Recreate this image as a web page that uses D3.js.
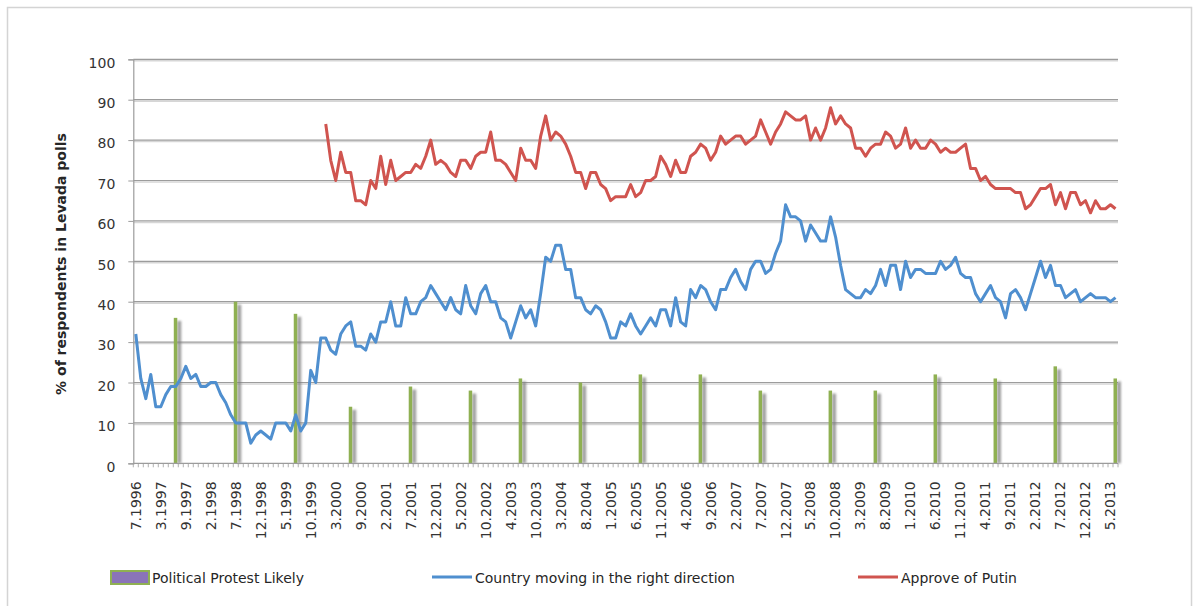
<!DOCTYPE html>
<html>
<head>
<meta charset="utf-8">
<script src="https://cdn.jsdelivr.net/npm/d3@7"></script>
<style>
body { margin: 0; background: #fff; }
svg { display: block; font-family: 'DejaVu Sans', sans-serif; }
</style>
</head>
<body>
<script>
// poll months run 7.1996 .. 6.2013, a few months had no poll
var firstMonth = [7, 1996], lastMonth = [6, 2013];
var missingMonths = ['9.1996', '12.1996', '2.1997', '6.1997', '6.2000', '1.2003', '6.2003'];

var tickLabels = ['7.1996','3.1997','9.1997','2.1998','7.1998','12.1998','5.1999','10.1999','3.2000','9.2000',
  '2.2001','7.2001','12.2001','5.2002','10.2002','4.2003','10.2003','3.2004','8.2004','1.2005',
  '6.2005','11.2005','4.2006','9.2006','2.2007','7.2007','12.2007','5.2008','10.2008','3.2009',
  '8.2009','1.2010','6.2010','11.2010','4.2011','9.2011','2.2012','7.2012','12.2012','5.2013'];
var yTicks = [0, 10, 20, 30, 40, 50, 60, 70, 80, 90, 100];

// Country moving in the right direction (one value per poll month)
var rightDirection = [32,21,16,22,14,14,17,19,19,21,24,21,22,19,19,20,20,17,15,12,
  10,10,10,5,7,8,7,6,10,10,10,8,12,8,10,23,20,31,31,28,
  27,32,34,35,29,29,28,32,30,35,35,40,34,34,41,37,37,40,41,44,
  42,40,38,41,38,37,44,39,37,42,44,40,40,36,35,31,35,39,36,38,
  34,42,51,50,54,54,48,48,41,41,38,37,39,38,35,31,31,35,34,37,
  34,32,34,36,34,38,38,34,41,35,34,43,41,44,43,40,38,43,43,46,
  48,45,43,48,50,50,47,48,52,55,64,61,61,60,55,59,57,55,55,61,
  56,49,43,42,41,41,43,42,44,48,44,49,49,43,50,46,48,48,47,47,
  47,50,48,49,51,47,46,46,42,40,42,44,41,40,36,42,43,41,38,42,
  46,50,46,49,44,44,41,42,43,40,41,42,41,41,41,40,41];

// Approve of Putin, starts 1.2000
var putinStart = '1.2000';
var approvePutin = [84,75,70,77,72,72,65,65,64,70,68,76,69,75,70,71,72,72,74,73,
  76,80,74,75,74,72,71,75,75,73,76,77,77,82,75,75,74,72,70,78,
  75,75,73,81,86,80,82,81,79,76,72,72,68,72,72,69,68,65,66,66,
  66,69,66,67,70,70,71,76,74,71,75,72,72,76,77,79,78,75,77,81,
  79,80,81,81,79,80,81,85,82,79,82,84,87,86,85,85,86,80,83,80,
  83,88,84,86,84,83,78,78,76,78,79,79,82,81,78,79,83,78,80,78,
  78,80,79,77,78,77,77,78,79,73,73,70,71,69,68,68,68,68,67,67,
  63,64,66,68,68,69,64,67,63,67,67,64,65,62,65,63,63,64,63];

// Political Protest Likely
var protestMonths = ['7.1997','7.1998','7.1999','7.2000','7.2001','7.2002','7.2003','7.2004','7.2005',
  '7.2006','7.2007','9.2008','6.2009','6.2010','6.2011','6.2012','6.2013'];
var protestValues = [36,40,37,14,19,18,21,20,22,22,18,18,18,22,21,24,21];

var blueColor = '#4f8fcf', redColor = '#d0544f', greenColor = '#8fb052';

// category list
var categories = [];
var m = firstMonth[0], yr = firstMonth[1];
while (yr < lastMonth[1] || (yr == lastMonth[1] && m <= lastMonth[0])) {
  var key = m + '.' + yr;
  if (missingMonths.indexOf(key) < 0) categories.push(key);
  m++;
  if (m > 12) { m = 1; yr++; }
}

var w = 1199, h = 606;
var plotLeft = 133.3, plotRight = 1118, plotTop = 59.3, plotBottom = 463.3;

var svg = d3.select('body').append('svg')
  .attr('width', w)
  .attr('height', h);

var defs = svg.append('defs');
defs.append('filter')
  .attr('id', 'blur')
  .attr('x', '-50%').attr('width', '200%')
  .append('feGaussianBlur')
  .attr('stdDeviation', 1.3);

// outer frame
svg.append('rect')
  .attr('x', 7.5)
  .attr('y', 7.5)
  .attr('width', 1184)
  .attr('height', 640)
  .attr('fill', 'none')
  .attr('stroke', '#d4d4d4')
  .attr('stroke-width', 1.5);

var x = d3.scaleBand()
  .domain(categories)
  .range([plotLeft, plotRight]);
var bw = x.bandwidth();
var cx = function(c) { return x(c) + bw / 2; };

var y = d3.scaleLinear()
  .domain([0, 100])
  .range([plotBottom, plotTop]);

// gridlines
var grid = svg.append('g');
grid.selectAll('line.shadow')
  .data(yTicks.slice(1))
  .enter().append('line')
  .attr('class', 'shadow')
  .attr('x1', plotLeft).attr('x2', plotRight)
  .attr('y1', function(d) { return y(d) + 1.5; })
  .attr('y2', function(d) { return y(d) + 1.5; })
  .attr('stroke', '#d6d6d6')
  .attr('stroke-width', 1.5);
grid.selectAll('line.main')
  .data(yTicks.slice(1))
  .enter().append('line')
  .attr('class', 'main')
  .attr('x1', plotLeft).attr('x2', plotRight)
  .attr('y1', function(d) { return y(d); })
  .attr('y2', function(d) { return y(d); })
  .attr('stroke', '#9c9c9c')
  .attr('stroke-width', 1.2);

// y axis
var yAxis = svg.append('g')
  .attr('transform', 'translate(' + plotLeft + ',0)')
  .call(d3.axisLeft(y).tickValues(yTicks).tickSize(5).tickPadding(13));
yAxis.select('.domain').attr('stroke', '#9c9c9c').attr('stroke-width', 1.2);
yAxis.selectAll('.tick line').attr('stroke', '#9c9c9c');
yAxis.selectAll('.tick text')
  .attr('font-size', 14)
  .attr('font-family', 'DejaVu Sans')
  .attr('fill', '#333')
  .attr('dy', '0.55em');

svg.append('text')
  .attr('transform', 'translate(66,264) rotate(-90)')
  .attr('text-anchor', 'middle')
  .attr('font-size', 14)
  .attr('font-weight', 'bold')
  .attr('fill', '#262626')
  .text('% of respondents in Levada polls');

// bars with soft shadow
var bars = svg.append('g');
var protest = protestMonths.map(function(c, i) { return {c: c, v: protestValues[i]}; });
bars.selectAll('rect.sh')
  .data(protest)
  .enter().append('rect')
  .attr('class', 'sh')
  .attr('x', function(d) { return cx(d.c) + 1.5; })
  .attr('y', function(d) { return y(d.v) + 3; })
  .attr('width', 4)
  .attr('height', function(d) { return y(0) - y(d.v) - 3; })
  .attr('fill', '#7a7a7a')
  .attr('opacity', 0.7)
  .attr('filter', 'url(#blur)');
bars.selectAll('rect.bar')
  .data(protest)
  .enter().append('rect')
  .attr('class', 'bar')
  .attr('x', function(d) { return cx(d.c) - 2; })
  .attr('y', function(d) { return y(d.v); })
  .attr('width', 3.5)
  .attr('height', function(d) { return y(0) - y(d.v); })
  .attr('fill', greenColor);

// x axis
svg.append('line')
  .attr('x1', plotLeft).attr('x2', plotRight)
  .attr('y1', plotBottom).attr('y2', plotBottom)
  .attr('stroke', '#9c9c9c')
  .attr('stroke-width', 1.2);
svg.append('g').selectAll('line')
  .data(categories.concat(['end']))
  .enter().append('line')
  .attr('x1', function(d) { return d == 'end' ? plotRight : x(d); })
  .attr('x2', function(d) { return d == 'end' ? plotRight : x(d); })
  .attr('y1', plotBottom)
  .attr('y2', plotBottom + 4)
  .attr('stroke', '#9c9c9c')
  .attr('stroke-width', 0.8);

var xAxis = svg.append('g')
  .attr('transform', 'translate(0,' + plotBottom + ')')
  .call(d3.axisBottom(x).tickValues(tickLabels).tickSize(0));
xAxis.select('.domain').remove();
xAxis.selectAll('.tick text')
  .attr('transform', 'rotate(-90)')
  .attr('text-anchor', 'end')
  .attr('x', -18)
  .attr('y', 0)
  .attr('dy', '0.35em')
  .attr('font-size', 14)
  .attr('font-family', 'DejaVu Sans')
  .attr('fill', '#333');

// lines
var line = d3.line()
  .defined(function(d) { return d.v != null; })
  .x(function(d) { return cx(d.c); })
  .y(function(d) { return y(d.v); });

var blueData = categories.map(function(c, i) { return {c: c, v: rightDirection[i]}; });
var off = categories.indexOf(putinStart);
var redData = approvePutin.map(function(v, i) { return {c: categories[off + i], v: v}; });

svg.append('path')
  .datum(blueData)
  .attr('d', line)
  .attr('fill', 'none')
  .attr('stroke', blueColor)
  .attr('stroke-width', 3)
  .attr('stroke-linejoin', 'round');
svg.append('path')
  .datum(redData)
  .attr('d', line)
  .attr('fill', 'none')
  .attr('stroke', redColor)
  .attr('stroke-width', 3)
  .attr('stroke-linejoin', 'round');

// legend
var legend = svg.append('g').attr('font-size', 14).attr('fill', '#262626');
legend.append('rect')
  .attr('x', 111).attr('y', 571)
  .attr('width', 38).attr('height', 13)
  .attr('fill', '#8a74b8')
  .attr('stroke', greenColor)
  .attr('stroke-width', 2);
legend.append('text').attr('x', 152).attr('y', 583).text('Political Protest Likely');
legend.append('line')
  .attr('x1', 432).attr('x2', 472).attr('y1', 577).attr('y2', 577)
  .attr('stroke', blueColor).attr('stroke-width', 3);
legend.append('text').attr('x', 475).attr('y', 583).text('Country moving in the right direction');
legend.append('line')
  .attr('x1', 858).attr('x2', 898).attr('y1', 577).attr('y2', 577)
  .attr('stroke', redColor).attr('stroke-width', 3);
legend.append('text').attr('x', 901).attr('y', 583).text('Approve of Putin');
</script>
</body>
</html>
